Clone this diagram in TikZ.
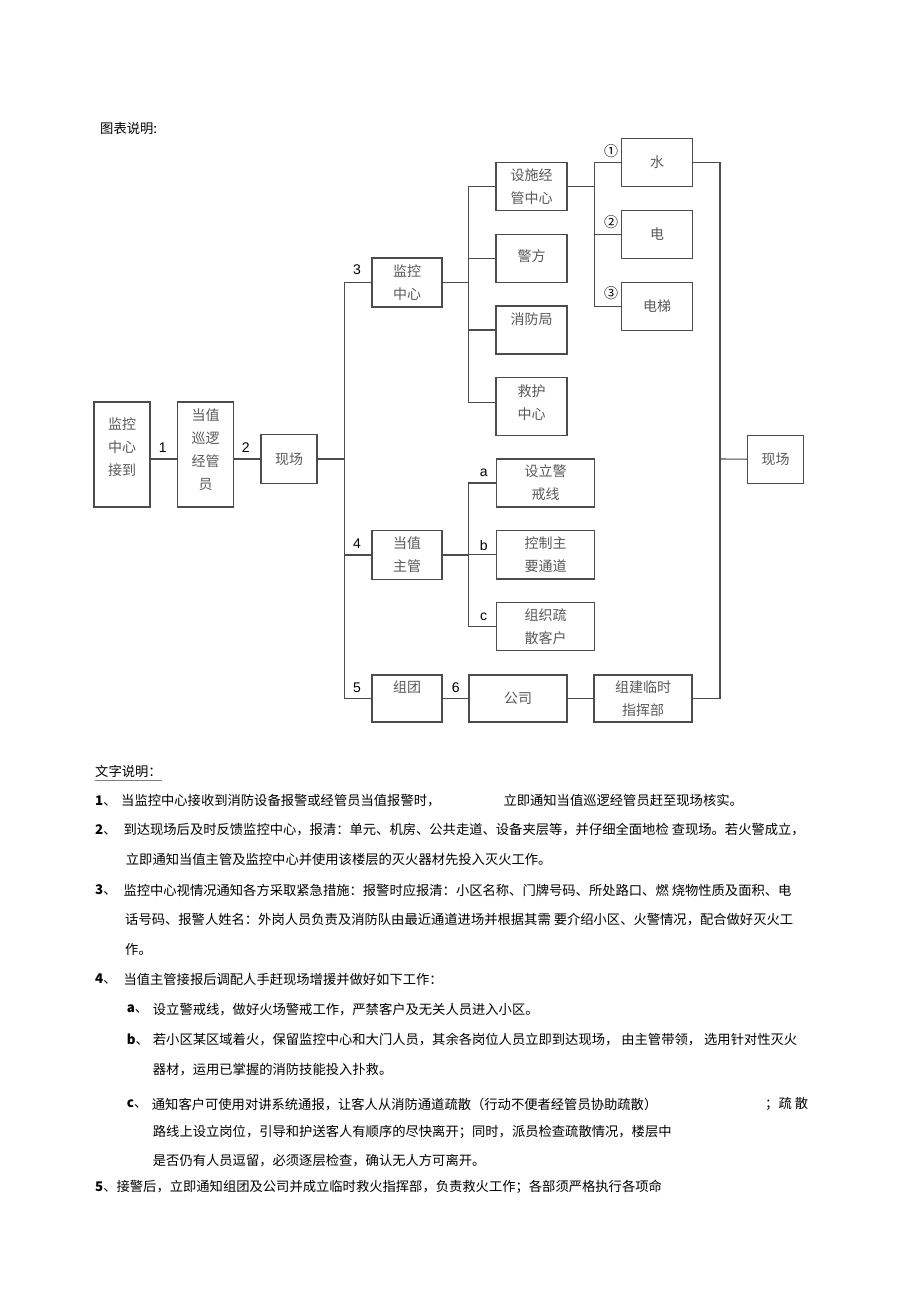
\documentclass[tikz,border=0pt]{standalone}
\usepackage{fontspec}
\setmainfont{Liberation Sans}
\newfontfamily\cjk{Noto Sans CJK SC}
\usetikzlibrary{positioning}

\tikzset{
  line/.style={draw=black!70, line width=1.1pt},
  box/.style={draw=black!70, line width=1.1pt, inner sep=0pt, align=center,
    text=black!65, font=\cjk\fontsize{14}{23}\selectfont},
  num/.style={inner sep=0pt, font=\fontsize{14}{16}\selectfont},
  txt/.style={anchor=west, inner sep=0pt, font=\cjk\fontsize{13.3}{16}\selectfont},
}

\begin{document}
\begin{tikzpicture}[x=1pt, y=-1pt]
\path[fill=white, use as bounding box] (0,0) rectangle (920,1303);

\node[txt] (tt) at (100,128) {图表说明:};

% left chain
\node[box, minimum width=56, minimum height=105, text depth=16pt] (jd) at (122,454.5) {监控\\中心\\接到};
\node[box, minimum width=56, minimum height=105, text depth=10pt] (xl) at (205.5,454.5) {当值\\巡逻\\经管\\员};
\node[box, minimum width=56, minimum height=48.5] (xc) at (289,459) {现场};

% branches 3, 4, 5
\node[box, minimum width=70, minimum height=49] (jk) at (407,282.5) {监控\\中心};
\node[box, minimum width=70, minimum height=48.6] (zg) at (407,555) {当值\\主管};
\node[box, minimum width=70, minimum height=47] (zt) at (407,698.5) {组团\\~};
\node[box, minimum width=98, minimum height=47] (gs) at (518,698.5) {公司};
\node[box, minimum width=98, minimum height=47] (zh) at (643,698.5) {组建临时\\指挥部};

% under 3
\node[box, minimum width=71, minimum height=48.4] (ss) at (531.5,186.5) {设施经\\管中心};
\node[box, minimum width=71, minimum height=48.4, text depth=6pt] (jf) at (531.5,258.5) {警方};
\node[box, minimum width=71, minimum height=48] (xf) at (531.5,330) {消防局\\~};
\node[box, minimum width=71, minimum height=57.7, text depth=8pt] (jh) at (531.5,406.2) {救护\\中心};
\node[box, minimum width=70.6, minimum height=48.4] (s) at (657,162.5) {水};
\node[box, minimum width=70.6, minimum height=48] (d) at (657,234.3) {电};
\node[box, minimum width=70.6, minimum height=47.6] (dt) at (657,306.5) {电梯};

% under 4
\node[box, minimum width=97.6, minimum height=48] (sl) at (545.5,483) {设立警\\戒线};
\node[box, minimum width=97.6, minimum height=48.3] (kz) at (545.5,554.8) {控制主\\要通道};
\node[box, minimum width=97.6, minimum height=48] (zz) at (545.5,626.7) {组织疏\\散客户};

\node[box, minimum width=55.6, minimum height=48.3] (xc2) at (775.5,459.2) {现场};

% buses
\coordinate (ba) at (344.3,459);
\coordinate (bb) at (468.3,282.5);
\coordinate (bc) at (594.3,186.5);
\coordinate (bd) at (468.7,555);
\coordinate (be) at (720,459);

\draw[line] (jd.east |- xc.west) -- (xl.west |- xc.west);
\draw[line] (xl.east |- xc.west) -- (xc.west);
\draw[line] (xc.east) -- (ba);
\draw[line] (jk.west) -| (ba) |- (zt.west);
\draw[line] (zg.west) -- (zg.west -| ba);
\draw[line] (zt.east) -- (gs.west);
\draw[line] (gs.east) -- (zh.west);

\draw[line] (jk.east) -- (bb);
\draw[line] (ss.west) -| (bb) |- ([yshift=4pt]jh.west);
\draw[line] (jf.west) -- (jf.west -| bb);
\draw[line] (xf.west) -- (xf.west -| bb);

\draw[line] (ss.east) -- (bc);
\draw[line] (s.west) -| (bc) |- (dt.west);
\draw[line] (d.west) -- (d.west -| bc);

\draw[line] (zg.east) -- (bd);
\draw[line] (sl.west) -| (bd) |- (zz.west);
\draw[line] (kz.west) -- (kz.west -| bd);

\draw[line] (s.east) -| (be) |- (zh.east);
\draw[line] (be) -- (xc2.west);

% step labels
\node[num] (n1) at (162.7,448) {1};
\node[num] (n2) at (245.7,448) {2};
\node[num] (n3) at (357,270) {3};
\node[num] (n4) at (357,544) {4};
\node[num] (n5) at (357,688) {5};
\node[num] (n6) at (455.7,688) {6};
\node[num, font=\cjk\fontsize{14}{16}\selectfont] (c1) at (611,150.7) {①};
\node[num, font=\cjk\fontsize{14}{16}\selectfont] (c2) at (611,221.7) {②};
\node[num, font=\cjk\fontsize{14}{16}\selectfont] (c3) at (611,293.3) {③};
\node[num] (la) at (483.7,472.7) {a};
\node[num] (lb) at (483.7,545) {b};
\node[num] (lc) at (483.7,616.7) {c};

% text part
\node[txt] (wz) at (95,771.7) {文字说明：};
\draw[black!50, line width=0.8pt] ([yshift=-2pt]wz.south west) -- ([yshift=-2pt]wz.south east);

\node[txt] (k1) at (95,800.7) {\textbf{1}、};
\node[txt] (t1) at (121,800.7) {当监控中心接收到消防设备报警或经管员当值报警时，};
\node[txt] (t1b) at (503.3,800.7) {立即通知当值巡逻经管员赶至现场核实。};
\node[txt] (k2) at (95,830) {\textbf{2}、};
\node[txt] (t2) at (123.3,830) {到达现场后及时反馈监控中心，报清：单元、机房、公共走道、设备夹层等，并仔细全面地检 查现场。若火警成立，};
\node[txt] (t2b) at (125.7,859.3) {立即通知当值主管及监控中心并使用该楼层的灭火器材先投入灭火工作。};
\node[txt] (k3) at (95,890) {\textbf{3}、};
\node[txt] (t3) at (123.3,890) {监控中心视情况通知各方采取紧急措施：报警时应报清：小区名称、门牌号码、所处路口、燃 烧物性质及面积、电};
\node[txt] (t3b) at (125,920) {话号码、报警人姓名：外岗人员负责及消防队由最近通道进场并根据其需 要介绍小区、火警情况，配合做好灭火工};
\node[txt] (t3c) at (125,949) {作。};
\node[txt] (k4) at (95,979) {\textbf{4}、};
\node[txt] (t4) at (123.3,979) {当值主管接报后调配人手赶现场增援并做好如下工作：};
\node[txt] (ka) at (126.7,1009.3) {\textbf{a}、};
\node[txt] (ta) at (152.7,1009.3) {设立警戒线，做好火场警戒工作，严禁客户及无关人员进入小区。};
\node[txt] (kb) at (126.7,1040) {\textbf{b}、};
\node[txt] (tb) at (152.7,1040) {若小区某区域着火，保留监控中心和大门人员，其余各岗位人员立即到达现场， 由主管带领， 选用针对性灭火};
\node[txt] (tb2) at (152.7,1070) {器材，运用已掌握的消防技能投入扑救。};
\node[txt] (kc) at (126.7,1104.3) {\textbf{c}、};
\node[txt] (tc) at (151.7,1104.3) {通知客户可使用对讲系统通报，让客人从消防通道疏散（行动不便者经管员协助疏散）};
\node[txt] (tc1) at (765,1104.3) {；疏 散};
\node[txt] (tc2) at (152.7,1132.3) {路线上设立岗位，引导和护送客人有顺序的尽快离开；同时，派员检查疏散情况，楼层中};
\node[txt] (tc3) at (152.7,1161) {是否仍有人员逗留，必须逐层检查，确认无人方可离开。};
\node[txt] (t5) at (95,1186.7) {\textbf{5}、接警后，立即通知组团及公司并成立临时救火指挥部，负责救火工作；各部须严格执行各项命};
\end{tikzpicture}
\end{document}
